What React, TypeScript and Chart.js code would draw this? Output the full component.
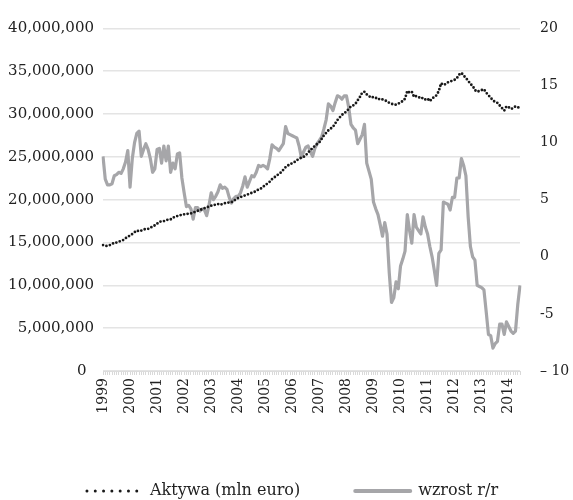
import React, { useEffect, useRef } from 'react';
import { Chart, registerables } from 'chart.js';

Chart.register(...registerables);

// Years on the category axis (monthly data, Jan 1999 – Jun 2014)
const years = ['1999', '2000', '2001', '2002', '2003', '2004', '2005', '2006', '2007', '2008', '2009', '2010', '2011', '2012', '2013', '2014'];
const months = ['01', '02', '03', '04', '05', '06', '07', '08', '09', '10', '11', '12'];

// Aktywa (mln euro) – left axis
const aktywa = [
  14700000, 14600000, 14600000, 14700000, 14800000, 15000000, 15000000, 15100000, 15200000, 15300000, 15500000, 15700000,
  15800000, 16000000, 16200000, 16400000, 16300000, 16400000, 16500000, 16600000, 16600000, 16700000, 16900000, 17000000,
  17200000, 17400000, 17500000, 17500000, 17600000, 17700000, 17700000, 17900000, 18000000, 18100000, 18200000, 18200000,
  18300000, 18300000, 18400000, 18400000, 18500000, 18600000, 18700000, 18800000, 18900000, 19000000, 19100000, 19200000,
  19300000, 19400000, 19400000, 19500000, 19400000, 19500000, 19600000, 19600000, 19700000, 19700000, 19900000, 20000000,
  20200000, 20300000, 20400000, 20500000, 20600000, 20700000, 20800000, 20900000, 21000000, 21200000, 21300000, 21500000,
  21700000, 21900000, 22100000, 22400000, 22600000, 22800000, 23000000, 23200000, 23500000, 23800000, 24000000, 24100000,
  24300000, 24400000, 24600000, 24800000, 24900000, 25000000, 25200000, 25500000, 25800000, 26000000, 26300000, 26500000,
  26700000, 27100000, 27500000, 27800000, 28100000, 28300000, 28500000, 28900000, 29300000, 29600000, 29900000, 30100000,
  30300000, 30600000, 30900000, 31000000, 31200000, 31600000, 32000000, 32500000, 32600000, 32300000, 32100000, 31900000,
  32000000, 31900000, 31700000, 31800000, 31700000, 31600000, 31500000, 31300000, 31200000, 31100000, 31100000, 31200000,
  31400000, 31500000, 31800000, 32700000, 32500000, 32600000, 32000000, 32100000, 32000000, 31800000, 31900000, 31700000,
  31800000, 31500000, 31800000, 32000000, 32200000, 32700000, 33600000, 33400000, 33500000, 33700000, 33800000, 33900000,
  34000000, 34200000, 34600000, 34800000, 34500000, 34200000, 33900000, 33500000, 33300000, 32800000, 32600000, 32700000,
  32800000, 32900000, 32500000, 32200000, 31900000, 31600000, 31400000, 31300000, 31000000, 30700000, 30400000, 30900000,
  30800000, 30600000, 30700000, 30900000, 30800000, 30700000,
];

// wzrost r/r (%) – right axis
const wzrost = [
  8.8, 6.8, 6.3, 6.3, 6.4, 7.1, 7.2, 7.4, 7.3, 7.7, 8.3, 9.3,
  6.1, 8.6, 10.0, 10.8, 11.0, 8.8, 9.4, 9.9, 9.4, 8.6, 7.4, 7.7,
  9.4, 9.5, 8.2, 9.7, 8.4, 9.7, 7.4, 8.2, 7.7, 9.0, 9.1, 6.9,
  5.6, 4.4, 4.5, 4.2, 3.3, 4.3, 4.3, 4.0, 4.2, 4.1, 3.6, 4.5,
  5.6, 5.0, 5.3, 5.7, 6.3, 6.0, 6.1, 5.9, 5.2, 4.7, 5.1, 5.3,
  5.3, 5.6, 6.2, 7.0, 6.1, 6.6, 7.1, 7.0, 7.4, 8.0, 7.9, 8.0,
  7.9, 7.7, 8.6, 9.8, 9.6, 9.5, 9.3, 9.6, 9.9, 11.4, 10.8, 10.7,
  10.6, 10.5, 10.4, 9.7, 8.7, 9.2, 9.6, 9.7, 9.2, 8.8, 9.5, 9.9,
  10.2, 10.5, 11.2, 12.0, 13.4, 13.2, 12.8, 13.5, 14.1, 14.0, 13.8, 14.1,
  14.1, 13.1, 11.6, 11.3, 11.1, 9.9, 10.3, 10.7, 11.6, 8.2, 7.5, 6.8,
  4.8, 4.2, 3.7, 2.8, 1.8, 3.0, 2.0, -1.4, -4.0, -3.6, -2.2, -2.8,
  -0.8, -0.2, 0.5, 3.7, 2.3, 1.2, 3.7, 2.6, 2.3, 2.0, 3.5, 2.6,
  2.0, 0.9, 0.0, -1.2, -2.5, 0.3, 0.6, 4.8, 4.7, 4.6, 4.1, 5.2,
  5.2, 6.9, 6.9, 8.6, 8.0, 7.1, 3.5, 0.9, 0.0, -0.3, -2.5, -2.6,
  -2.7, -2.9, -4.8, -6.8, -6.9, -8.0, -7.6, -7.4, -5.9, -5.9, -6.8, -5.7,
  -6.1, -6.5, -6.7, -6.5, -4.2, -2.5,
];

const seriesNames = ['Aktywa (mln euro)', 'wzrost r/r'];
const leftAxis = { min: 0, max: 40000000, step: 5000000 };
const rightAxis = { min: -10, max: 20, step: 5 };

const categories = years.flatMap((y) => months.map((m) => `${y}-${m}`)).slice(0, aktywa.length);

const FONT = 'DejaVu Serif';
const TEXT = '#222222';
const BLACK = '#1a1a1a';
const GRAY = '#a6a6a9';

export default function App() {
  const ref = useRef<HTMLCanvasElement | null>(null);

  useEffect(() => {
    if (!ref.current) return;
    const chart = new Chart(ref.current, {
      type: 'line',
      data: {
        labels: categories,
        datasets: [
          {
            label: seriesNames[0],
            data: aktywa,
            yAxisID: 'y',
            borderColor: BLACK,
            borderWidth: 2.8,
            borderDash: [0, 3.6],
            borderCapStyle: 'round',
            pointRadius: 0,
            tension: 0,
            fill: false,
          },
          {
            label: seriesNames[1],
            data: wzrost,
            yAxisID: 'y1',
            borderColor: GRAY,
            borderWidth: 3.2,
            borderJoinStyle: 'round',
            pointRadius: 0,
            tension: 0,
            fill: false,
          },
        ],
      },
      options: {
        animation: false,
        responsive: false,
        layout: { padding: { left: 0, top: 19, right: -12, bottom: 0 } },
        plugins: {
          tooltip: { enabled: false },
          legend: {
            position: 'bottom',
            align: 'center',
            labels: {
              font: { family: FONT, size: 16 },
              color: TEXT,
              padding: 55,
              usePointStyle: true,
              pointStyleWidth: 55,
              boxHeight: 16,
              generateLabels: () => [
                {
                  text: seriesNames[0],
                  fillStyle: 'rgba(0,0,0,0)',
                  strokeStyle: BLACK,
                  lineWidth: 3,
                  lineDash: [0, 8.3],
                  lineCap: 'round',
                  pointStyle: 'line',
                  fontColor: TEXT,
                  hidden: false,
                  datasetIndex: 0,
                },
                {
                  text: seriesNames[1],
                  fillStyle: 'rgba(0,0,0,0)',
                  strokeStyle: GRAY,
                  lineWidth: 4,
                  lineDash: [],
                  lineCap: 'round',
                  pointStyle: 'line',
                  fontColor: TEXT,
                  hidden: false,
                  datasetIndex: 1,
                },
              ],
            },
          },
        },
        scales: {
          x: {
            type: 'category',
            grid: {
              display: true,
              drawOnChartArea: false,
              drawTicks: true,
              tickLength: 4,
              color: '#d9d9d9',
              lineWidth: 1,
            },
            border: { display: true, color: '#dcdcdc' },
            ticks: {
              autoSkip: false,
              maxRotation: 90,
              minRotation: 90,
              padding: 3,
              color: TEXT,
              font: { family: FONT, size: 14 },
              callback: (_v: any, i: number) => {
                const c = categories[i];
                return c && c.endsWith('-01') ? c.slice(0, 4) : '';
              },
            },
            afterFit: (s: any) => {
              s.height = 57;
            },
          },
          y: {
            position: 'left',
            min: leftAxis.min,
            max: leftAxis.max,
            grid: { color: '#e4e4e4', lineWidth: 1.5, drawTicks: false },
            border: { display: false },
            ticks: {
              stepSize: leftAxis.step,
              padding: 9,
              color: TEXT,
              font: { family: FONT, size: 15 },
              callback: (v: any) => (Number(v) === 0 ? '0\u2002' : Number(v).toLocaleString('en-US')),
            },
            afterFit: (s: any) => {
              s.width = 103;
            },
          },
          y1: {
            position: 'right',
            min: rightAxis.min,
            max: rightAxis.max,
            grid: { display: false, drawOnChartArea: false, drawTicks: false },
            border: { display: false },
            ticks: {
              stepSize: rightAxis.step,
              padding: 20,
              color: TEXT,
              font: { family: FONT, size: 14 },
              callback: (v: any) => (Number(v) === -10 ? '\u2013 10' : String(v)),
            },
            afterFit: (s: any) => {
              s.width = 65;
            },
          },
        },
      },
    });
    return () => chart.destroy();
  }, []);

  return (
    <div style={{ position: 'absolute', left: 0, top: 0, width: 573, height: 509, background: '#ffffff' }}>
      <canvas ref={ref} width={573} height={509} style={{ display: 'block' }} />
    </div>
  );
}
